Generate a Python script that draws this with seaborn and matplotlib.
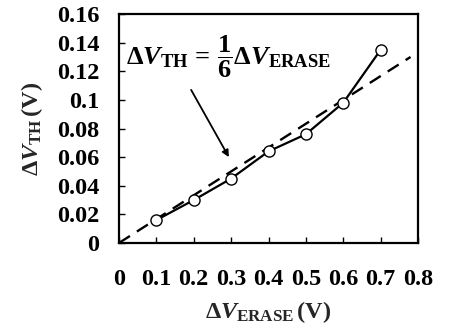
import matplotlib
matplotlib.use("Agg")
import matplotlib.pyplot as plt
import seaborn as sns
import pandas as pd

# Data
erase_v = [0.1, 0.2, 0.3, 0.4, 0.5, 0.6, 0.7]
delta_vth = [0.016, 0.030, 0.045, 0.064, 0.076, 0.098, 0.135]
fit_x = [0.0, 0.78]
fit_y = [0.0, 0.13]
x_ticks = [0, 0.1, 0.2, 0.3, 0.4, 0.5, 0.6, 0.7, 0.8]
y_ticks = [0, 0.02, 0.04, 0.06, 0.08, 0.1, 0.12, 0.14, 0.16]

sns.set_theme(style="white")
plt.rcParams['font.family'] = ['Liberation Serif', 'DejaVu Serif']
plt.rcParams['font.weight'] = 'bold'
plt.rcParams['mathtext.fontset'] = 'custom'
plt.rcParams['mathtext.rm'] = 'Liberation Serif:bold'
plt.rcParams['mathtext.it'] = 'Liberation Serif:bold:italic'
plt.rcParams['mathtext.bf'] = 'Liberation Serif:bold'

fig = plt.figure(figsize=(4.49, 3.27), dpi=100)
ax = fig.add_axes([0.265, 0.257, 0.666, 0.70])

df = pd.DataFrame({"x": erase_v, "y": delta_vth})
sns.lineplot(data=df, x="x", y="y", ax=ax, color="black", linewidth=1.6,
             marker="o", markersize=8, markerfacecolor="white",
             markeredgecolor="black", markeredgewidth=1.0, zorder=3)
fit = pd.DataFrame({"x": fit_x, "y": fit_y})
sns.lineplot(data=fit, x="x", y="y", ax=ax, color="black", linewidth=1.7,
             linestyle=(0, (5.5, 3.5)), zorder=2)

ax.set_xlim(0, 0.8)
ax.set_ylim(0, 0.16)
ax.set_xticks(x_ticks)
ax.set_yticks(y_ticks)
ax.set_xticklabels([f"{v:g}" for v in x_ticks])
ax.set_yticklabels([f"{v:g}" for v in y_ticks])
ax.tick_params(axis='both', direction='in', length=4, width=1,
               labelsize=17.5, color='black', labelcolor='black',
               bottom=True, left=True, top=False, right=False)
ax.tick_params(axis='x', pad=19)
ax.tick_params(axis='y', pad=14)
for lab in ax.get_xticklabels() + ax.get_yticklabels():
    lab.set_fontweight('bold')

for s in ax.spines.values():
    s.set_color('black')
    s.set_linewidth(1.6)

ax.set_xlabel(r'$\Delta V_{\mathrm{ERASE}}\,\mathrm{(V)}$', fontsize=17.5, labelpad=6)
ax.set_ylabel(r'$\Delta V_{\mathrm{TH}}\,\mathrm{(V)}$', fontsize=17.5, labelpad=9)

ax.text(0.019, 0.130,
        r'$\Delta V_{\mathrm{TH}}\mathrm{\,=\,}\dfrac{\mathrm{1}}{\mathrm{6}}\Delta V_{\mathrm{ERASE}}$',
        fontsize=19, ha='left', va='center', color='black')
ax.annotate('', xy=(0.294, 0.060), xytext=(0.193, 0.107),
            arrowprops=dict(arrowstyle='-|>', color='black', lw=1.3,
                            mutation_scale=10, shrinkA=0, shrinkB=0))

fig.savefig("out.png", dpi=100)
